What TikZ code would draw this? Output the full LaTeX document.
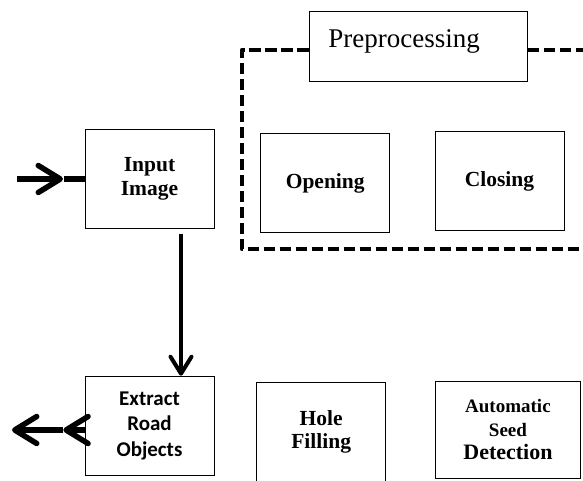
\documentclass[tikz,border=0pt]{standalone}
\usepackage{fontspec}
\setmainfont{Liberation Serif}
\newfontfamily\calibri{Carlito}
\usetikzlibrary{arrows.meta,positioning}

\begin{document}
\begin{tikzpicture}[x=1pt,y=1pt,
  block/.style={draw, line width=1pt, minimum width=129pt, minimum height=99pt,
    align=center, inner sep=2pt, font=\bfseries\fontsize{21.5}{23.5}\selectfont},
  fat/.style={line width=5.5pt, -{Straight Barb[length=22pt,width=27pt,round]}},
  dashbox/.style={line width=4pt, dash pattern=on 11.5pt off 4.5pt, line join=round}]
  \path[use as bounding box, clip] (0,0) rectangle (583,-481);

  \node[block] (inimg) at (149.5,-179) {Input\\Image};
  \node[block] (open) [right=45.7pt of inimg, yshift=-4pt] {Opening};
  \node[block] (close) [right=44.3pt of open, yshift=2pt] {Closing};
  \node[draw, line width=1pt, minimum width=218pt, minimum height=70pt,
    text width=180pt, inner xsep=19pt, align=left, text height=18pt, text depth=16pt,
    font=\fontsize{27}{30}\selectfont] (prep) at (418.3,-46.2) {Preprocessing};
  \node[block, font=\calibri\bfseries\fontsize{21}{25.5}\selectfont] (extract)
    [below=146.7pt of inimg] {Extract\\Road\\Objects};
  \node[block] (hole) [right=41.7pt of extract, yshift=-6.4pt] {Hole\\Filling};
  \node[block, minimum width=144.5pt, minimum height=97pt, font=\bfseries\fontsize{22}{23.5}\selectfont]
    (seed) [right=49pt of hole, yshift=2.2pt]
    {{\fontsize{19}{22}\selectfont Automatic}\\{\fontsize{19}{22}\selectfont Seed}\\Detection};

  % dashed frame round the preprocessing steps
  \coordinate (tl) at (241.7,-50);
  \coordinate (bl) at (241.7,-249);
  \coordinate (br) at (600,-249);
  \coordinate (tr) at (600,-50);
  \draw[dashbox] (prep.west |- tl) -- (tl) -- (bl) -- (br);
  \draw[dashbox] (prep.east |- tr) -- (tr);

  % in and out
  \coordinate (src) at (17,-179);
  \coordinate (dst) at (12,-430);
  \coordinate (mid) at (63.3,-430);
  \draw[fat] (src) -- ([xshift=-21.5pt]inimg.west);
  \draw[line width=5.5pt] ([xshift=-20.5pt]inimg.west) -- (inimg.west);
  \draw[fat] (mid) -- (dst);
  \draw[fat] (extract.west |- mid) -- (mid);
  \draw[line width=4pt, -{Straight Barb[length=17pt,width=21pt,round]}]
    ([xshift=31.5pt,yshift=-5pt]inimg.south) -- ([xshift=31.5pt]extract.north);
\end{tikzpicture}
\end{document}
